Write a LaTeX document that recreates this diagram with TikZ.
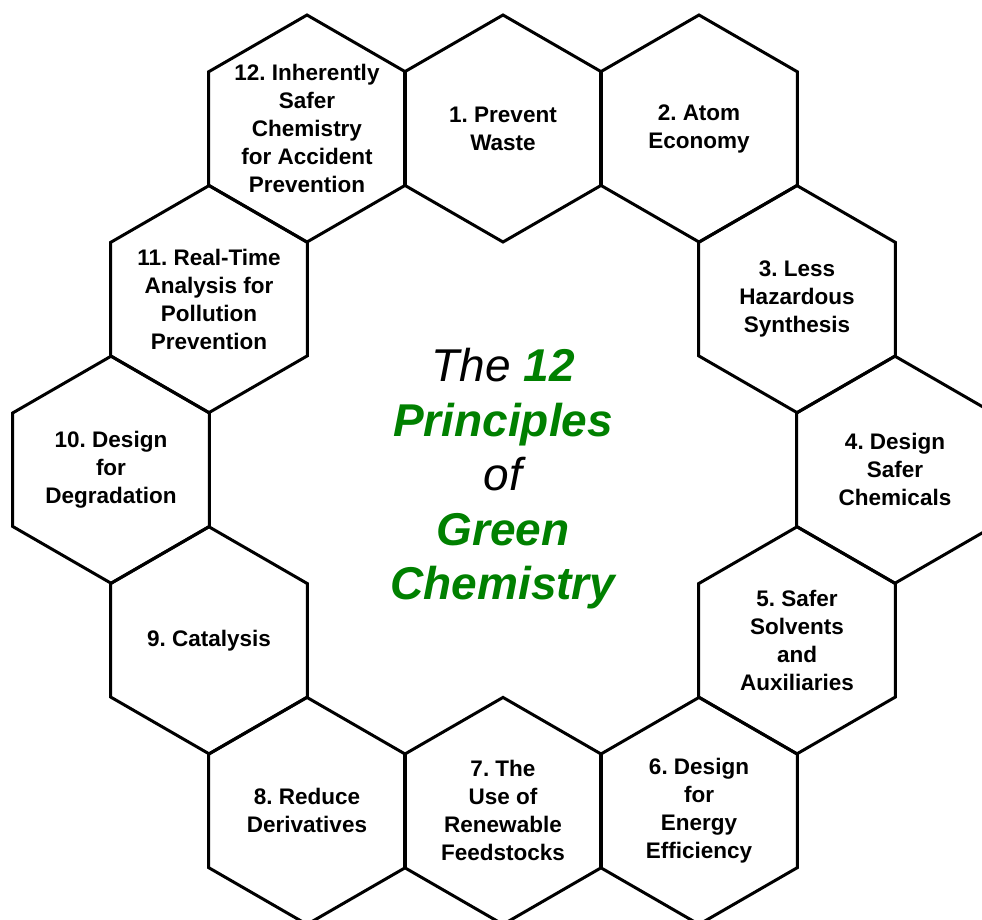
\documentclass[tikz,border=0pt]{standalone}
\usepackage{fontspec}
\setmainfont{Liberation Sans}
\usepackage{xcolor}
\usepackage{tikz}
\usetikzlibrary{shapes.geometric}
\definecolor{cLeaf}{HTML}{008000}
\definecolor{cInk}{HTML}{000000}
\frenchspacing
\tikzset{
  cell/.style={regular polygon, regular polygon sides=6, shape border rotate=30,
    draw=cInk, line width=3pt, minimum size=227pt, inner sep=0pt},
  tag/.style={align=center, text=cInk, font=\fontsize{22.5}{28}\selectfont\bfseries},
  title/.style={align=center, text=cInk, font=\fontsize{46}{54.5}\selectfont\itshape},
}

\begin{document}
\begin{tikzpicture}[x=1pt, y=-1pt]
\useasboundingbox (0,0) rectangle (982,919);
\clip (0,0) rectangle (982,919);

% ring of hexagons, (k,m) = half-column / row on the grid
\foreach \i/\k/\m/\txt in {
    1/0/0/{1. Prevent\\Waste},
    2/2/0/{2. Atom\\Economy},
    3/3/1/{3. Less\\Hazardous\\Synthesis},
    4/4/2/{4. Design\\Safer\\Chemicals},
    5/3/3/{5. Safer\\Solvents\\and\\Auxiliaries},
    6/2/4/{6. Design\\for\\Energy\\Efficiency},
    7/0/4/{7. The\\Use of\\Renewable\\Feedstocks},
    8/-2/4/{8. Reduce\\Derivatives},
    9/-3/3/{9. Catalysis},
    10/-4/2/{10. Design\\for\\Degradation},
    11/-3/1/{11. Real-Time\\Analysis for\\Pollution\\Prevention},
    12/-2/0/{12. Inherently\\Safer\\Chemistry\\for Accident\\Prevention}} {
  \node[cell] (h\i) at ({503+98*\k},{128.5+170.6*\m}) {};
  \node[tag] (t\i) at (h\i.center) {\txt};
}

\node[title] (head) at (503,479) {The {\bfseries\color{cLeaf}12}\\
  {\bfseries\color{cLeaf}Principles}\\ of\\
  {\bfseries\color{cLeaf}Green}\\ {\bfseries\color{cLeaf}Chemistry}};
\end{tikzpicture}
\end{document}
